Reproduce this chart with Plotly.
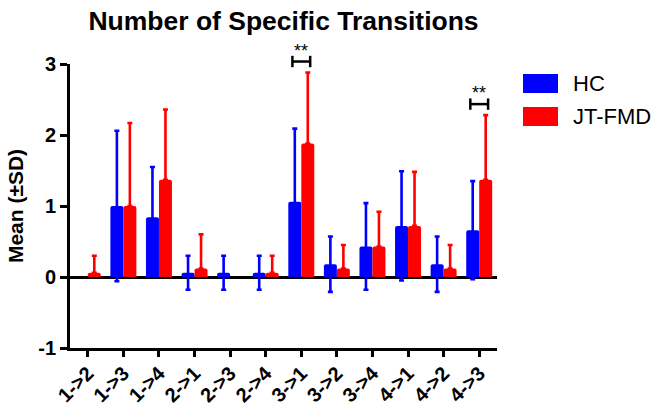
import plotly.graph_objects as go

# ---------------- data ----------------
categories = ["1->2", "1->3", "1->4", "2->1", "2->3", "2->4",
              "3->1", "3->2", "3->4", "4->1", "4->2", "4->3"]
series_names = ["HC", "JT-FMD"]
series_colors = ["#0000FF", "#FF0000"]
hc_mean = [0.00, 1.00, 0.84, 0.06, 0.06, 0.06, 1.06, 0.18, 0.43, 0.72, 0.18, 0.66]
hc_sd = [0.00, 1.06, 0.71, 0.24, 0.24, 0.24, 1.03, 0.39, 0.61, 0.77, 0.39, 0.69]
jt_mean = [0.06, 1.00, 1.37, 0.12, 0.00, 0.06, 1.88, 0.12, 0.43, 0.72, 0.12, 1.37]
jt_sd = [0.24, 1.17, 0.99, 0.48, 0.00, 0.24, 1.00, 0.33, 0.49, 0.76, 0.33, 0.91]
sig_categories = ["3->1", "4->3"]
sig_labels = ["**", "**"]
y_ticks = [-1, 0, 1, 2, 3]
y_tick_labels = ["-1", "0", "1", "2", "3"]

# ---------------- layout constants ----------------
W, H = 656, 408
L, R, T, B = 70, 159, 64, 60
Y_RANGE = [-1, 3]
X_RANGE = [-0.5, len(categories) - 0.5]
FONT = "Liberation Sans, Arial, sans-serif"


def px_to_paper_x(px):
    return (px - L) / (W - L - R)


def px_to_paper_y(py):
    return (H - B - py) / (H - T - B)


def y_to_paper(v):
    return (v - Y_RANGE[0]) / (Y_RANGE[1] - Y_RANGE[0])


def nz(vals):
    return [v if v != 0 else None for v in vals]


fig = go.Figure()
fig.add_trace(go.Bar(
    x=categories, y=nz(hc_mean), name=series_names[0],
    marker=dict(color=series_colors[0], line=dict(width=0), cornerradius=2),
    error_y=dict(type="data", array=hc_sd, symmetric=True,
                 color=series_colors[0], thickness=2.6, width=2.5),
    showlegend=False,
))
fig.add_trace(go.Bar(
    x=categories, y=nz(jt_mean), name=series_names[1],
    marker=dict(color=series_colors[1], line=dict(width=0), cornerradius=2),
    error_y=dict(type="data", array=jt_sd, arrayminus=[0] * len(jt_sd),
                 symmetric=False, color=series_colors[1], thickness=2.6, width=2.5),
    showlegend=False,
))

shapes = []
annotations = []

# significance brackets
half_w = 0.25
tick_h = 0.08
for cat, lab in zip(sig_categories, sig_labels):
    i = categories.index(cat)
    top = max(hc_mean[i] + hc_sd[i], jt_mean[i] + jt_sd[i]) + 0.155
    yb = y_to_paper(top)
    th = tick_h / (Y_RANGE[1] - Y_RANGE[0])
    shapes.append(dict(type="line", xref="x", yref="paper",
                       x0=i - half_w, x1=i + half_w, y0=yb, y1=yb,
                       line=dict(color="black", width=2.5)))
    for xe in (i - half_w, i + half_w):
        shapes.append(dict(type="line", xref="x", yref="paper",
                           x0=xe, x1=xe, y0=yb - th, y1=yb + th,
                           line=dict(color="black", width=2.5)))
    annotations.append(dict(x=i, y=yb, xref="x", yref="paper", text=lab,
                            showarrow=False, yanchor="bottom", yshift=-1,
                            font=dict(family=FONT, size=18, color="black")))

# custom legend
leg_rects = [(74, 93), (107, 126)]
for (name, color), (y0, y1) in zip(zip(series_names, series_colors), leg_rects):
    shapes.append(dict(type="rect", xref="paper", yref="paper",
                       x0=px_to_paper_x(523), x1=px_to_paper_x(558),
                       y0=px_to_paper_y(y1), y1=px_to_paper_y(y0),
                       fillcolor=color, line=dict(width=0)))
    annotations.append(dict(x=px_to_paper_x(571), y=px_to_paper_y((y0 + y1) / 2),
                            xref="paper", yref="paper", text=name, showarrow=False,
                            xanchor="left", yanchor="middle",
                            font=dict(family=FONT, size=22, color="black")))

fig.update_layout(
    width=W, height=H,
    margin=dict(l=L, r=R, t=T, b=B, autoexpand=False),
    paper_bgcolor="white", plot_bgcolor="white",
    barmode="group", bargap=0.27, bargroupgap=0,
    title=dict(text="Number of Specific Transitions", x=0.5, xref="paper",
               xanchor="center", y=1 - 20.5 / H, yref="container", yanchor="middle",
               font=dict(family=FONT, size=26.5, color="black", weight="bold")),
    shapes=shapes, annotations=annotations,
    showlegend=False,
)
fig.update_xaxes(
    type="category", range=X_RANGE, showgrid=False, zeroline=False,
    showline=True, linecolor="black", linewidth=2.7,
    ticks="outside", ticklen=6, tickwidth=2.5, tickcolor="black",
    tickangle=-45, ticklabelstandoff=-3,
    tickfont=dict(family=FONT, size=20, color="black", weight="bold"),
)
fig.update_yaxes(
    range=Y_RANGE, tickvals=y_ticks, ticktext=y_tick_labels, showgrid=False,
    zeroline=True, zerolinecolor="black", zerolinewidth=3,
    showline=True, linecolor="black", linewidth=2.7,
    ticks="outside", ticklen=7, tickwidth=2.5, tickcolor="black",
    tickfont=dict(family=FONT, size=20, color="black", weight="bold"),
    title=dict(text="Mean (±SD)", standoff=10,
               font=dict(family=FONT, size=21, color="black", weight="bold")),
)

fig.write_html("out.html")
